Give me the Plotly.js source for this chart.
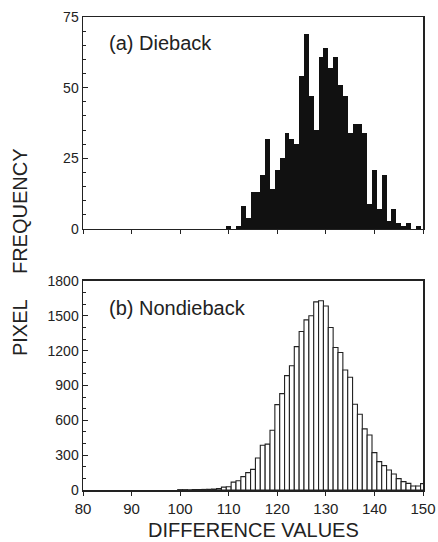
<!DOCTYPE html>
<html>
<head>
<meta charset="utf-8">
<script src="https://cdn.plot.ly/plotly-3.0.1.min.js"></script>
<style>html,body{margin:0;padding:0;background:#fff;}#chart{width:438px;height:542px;}</style>
</head>
<body>
<div id="chart"></div>
<script>
// (a) Dieback: bin centers and frequencies
const diebackBins = [110,111,112,113,114,115,116,117,118,119,120,121,122,123,124,125,126,127,128,129,130,131,132,133,134,135,136,137,138,139,140,141,142,143,144,145,146,147,148,149];
const diebackCounts = [1,0,1,8,4,13,13,19,32,14,21,25,34,32,30,54,69,47,35,61,64,57,61,51,47,34,37,37,34,9,21,7,19,3,7,2,1,2,0,1];

// (b) Nondieback: bin centers and pixel frequencies
const nondiebackBins = [100,101,102,103,104,105,106,107,108,109,110,111,112,113,114,115,116,117,118,119,120,121,122,123,124,125,126,127,128,129,130,131,132,133,134,135,136,137,138,139,140,141,142,143,144,145,146,147,148,149,150];
const nondiebackCounts = [3,3,2,4,4,5,6,8,12,25,28,68,80,115,150,178,275,385,395,515,735,830,985,1070,1235,1365,1465,1500,1620,1630,1585,1400,1227,1184,1034,971,738,652,526,474,322,244,210,172,138,98,72,57,34,34,55];

const xTickVals = [80,90,100,110,120,130,140,150];
const yTopTicks = [0,25,50,75];
const yBottomTicks = [0,300,600,900,1200,1500,1800];

const FONT = "Liberation Sans, Arial, Helvetica, sans-serif";
const INK = "#222";

const traces = [
  {type:'bar', x: diebackBins, y: diebackCounts, xaxis:'x', yaxis:'y',
   marker:{color:'#111', line:{width:0}}, width:1, hoverinfo:'x+y'},
  {type:'bar', x: nondiebackBins, y: nondiebackCounts, xaxis:'x2', yaxis:'y2',
   marker:{color:'#fff', line:{color:INK, width:1.1}}, width:1, hoverinfo:'x+y'}
];

const axBase = {showline:true, mirror:true, linecolor:INK, linewidth:1.5, showgrid:false, zeroline:false,
  tickcolor:INK, tickfont:{family:FONT, size:15, color:INK}};

const layout = {
  width:438, height:542,
  margin:{l:83, r:15, t:17, b:52},
  paper_bgcolor:'#fff', plot_bgcolor:'#fff',
  showlegend:false, bargap:0,
  font:{family:FONT, color:INK},
  xaxis: Object.assign({}, axBase, {domain:[0,1], anchor:'y', range:[80,150], tickvals:xTickVals,
    showticklabels:false, ticks:'outside', ticklen:4}),
  yaxis: Object.assign({}, axBase, {domain:[0.5518,1], anchor:'x', range:[0,75], tickvals:yTopTicks,
    ticks:'inside', ticklen:5, tickfont:{family:FONT, size:14, color:INK},
    minor:{ticks:'inside', dtick:5, ticklen:3, tickcolor:INK}}),
  xaxis2: Object.assign({}, axBase, {domain:[0,1], anchor:'y2', range:[80,150], tickvals:xTickVals,
    ticks:'outside', ticklen:4}),
  yaxis2: Object.assign({}, axBase, {domain:[0,0.4419], anchor:'x2', range:[0,1800], tickvals:yBottomTicks,
    ticks:'inside', ticklen:5, tickfont:{family:FONT, size:14, color:INK},
    minor:{ticks:'inside', dtick:100, ticklen:3, tickcolor:INK}}),
  annotations:[
    {text:'(a) Dieback', xref:'x', yref:'y', x:84.9, y:65.8, xanchor:'left', yanchor:'middle',
     showarrow:false, font:{family:FONT, size:20, color:INK}},
    {text:'(b) Nondieback', xref:'x2', yref:'y2', x:84.9, y:1567, xanchor:'left', yanchor:'middle',
     showarrow:false, font:{family:FONT, size:20, color:INK}},
    {text:'DIFFERENCE VALUES', xref:'paper', yref:'paper', x:0.5, y:-0.0846, xanchor:'center', yanchor:'middle',
     showarrow:false, font:{family:FONT, size:20, color:INK}},
    {text:'FREQUENCY', xref:'paper', yref:'paper', x:-0.185, y:0.5899, xanchor:'center', yanchor:'middle',
     textangle:-90, showarrow:false, font:{family:FONT, size:20, color:INK}},
    {text:'PIXEL', xref:'paper', yref:'paper', x:-0.185, y:0.3425, xanchor:'center', yanchor:'middle',
     textangle:-90, showarrow:false, font:{family:FONT, size:20, color:INK}}
  ]
};

Plotly.newPlot('chart', traces, layout, {staticPlot:true, displayModeBar:false});
</script>
</body>
</html>
